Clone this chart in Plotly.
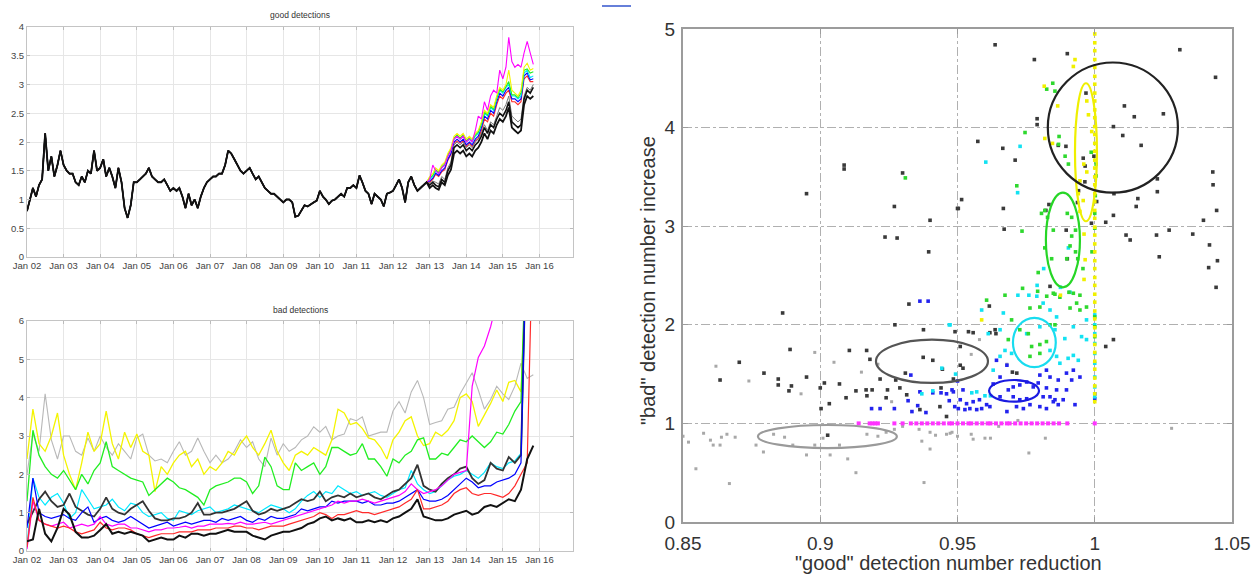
import plotly.graph_objects as go
import pandas as pd

W, H = 1259, 578

# ---------------- tick labels ----------------
year_tick_vals = [f"{y}-01-01" for y in range(2002, 2017)]
year_tick_text = ["Jan 02", "Jan 03", "Jan 04", "Jan 05", "Jan 06", "Jan 07", "Jan 08",
                  "Jan 09", "Jan 10", "Jan 11", "Jan 12", "Jan 13", "Jan 14", "Jan 15", "Jan 16"]
good_y_ticks = [0, 0.5, 1, 1.5, 2, 2.5, 3, 3.5, 4]
good_y_text = ["0", "0.5", "1", "1.5", "2", "2.5", "3", "3.5", "4"]
bad_y_ticks = [0, 1, 2, 3, 4, 5, 6]
sc_x_ticks = [0.85, 0.9, 0.95, 1.0, 1.05]
sc_x_text = ["0.85", "0.9", "0.95", "1", "1.05"]
sc_y_ticks = [0, 1, 2, 3, 4, 5]

# ---------------- good detections (monthly, Jan 2002 ...) ----------------
good_common = [
    0.8, 1.0, 1.2, 1.05, 1.25, 1.35, 2.15, 1.5, 1.75, 1.4, 1.6, 1.85,
    1.6, 1.5, 1.45, 1.45, 1.3, 1.25, 1.4, 1.3, 1.5, 1.45, 1.85, 1.5,
    1.55, 1.7, 1.4, 1.55, 1.4, 1.2, 1.55, 1.3, 0.85, 0.68, 0.9, 1.3,
    1.3, 1.35, 1.4, 1.45, 1.55, 1.4, 1.35, 1.3, 1.3, 1.35, 1.25, 1.15,
    1.2, 1.15, 1.2, 1.05, 0.85, 1.1, 0.9, 1.0, 0.85, 1.05, 1.2, 1.3,
    1.35, 1.4, 1.4, 1.45, 1.45, 1.6, 1.85, 1.8, 1.7, 1.6, 1.5, 1.45,
    1.5, 1.55, 1.45, 1.35, 1.4, 1.3, 1.2, 1.15, 1.1, 1.1, 1.05, 1.0,
    0.95, 1.0, 1.0, 0.95, 0.7, 0.72, 0.8, 0.9, 0.88, 0.92, 0.95, 0.98,
    1.15, 1.05, 1.0, 0.92, 0.98, 1.0, 1.05, 1.1, 1.05, 1.2, 1.2, 1.25,
    1.2, 1.42, 1.3, 1.15, 1.1, 0.92, 1.1, 1.05, 1.0, 0.88, 1.1, 1.12,
    1.15, 1.25, 1.35, 1.2, 0.95, 1.3, 1.4, 1.25, 1.15, 1.2, 1.25, 1.3,
]
good_tail_yellow = [1.4, 1.45, 1.55, 1.5, 1.6, 1.65, 1.8, 1.9, 2.1, 2.15, 2.1, 2.15, 2.05, 2.1, 2.05, 2.15, 2.2, 2.35,
                    2.55, 2.5, 2.65, 2.6, 2.8, 2.95, 2.9, 3.0, 3.25, 2.9, 2.85, 2.8, 2.9, 3.3, 3.37, 3.25, 3.28]
good_tail_green = [1.38, 1.42, 1.52, 1.47, 1.57, 1.62, 1.77, 1.87, 2.07, 2.12, 2.07, 2.12, 2.02, 2.07, 2.02, 2.12, 2.17, 2.32,
                   2.52, 2.47, 2.62, 2.57, 2.77, 2.92, 2.87, 2.97, 3.05, 2.82, 2.82, 2.77, 2.85, 3.25, 3.27, 3.2, 3.22]
good_tail_cyan = [1.35, 1.4, 1.5, 1.45, 1.55, 1.6, 1.75, 1.85, 2.05, 2.1, 2.05, 2.1, 2.0, 2.05, 2.0, 2.1, 2.15, 2.3,
                  2.5, 2.45, 2.6, 2.55, 2.75, 2.9, 2.85, 2.95, 3.0, 2.8, 2.8, 2.75, 2.8, 3.2, 3.25, 3.12, 3.15]
good_tail_blue = [1.32, 1.37, 1.46, 1.42, 1.5, 1.55, 1.7, 1.8, 2.0, 2.05, 2.0, 2.05, 1.95, 2.0, 1.95, 2.05, 2.1, 2.25,
                  2.45, 2.4, 2.55, 2.5, 2.7, 2.85, 2.8, 2.9, 2.95, 2.75, 2.75, 2.7, 2.75, 3.15, 3.2, 3.08, 3.1]
good_tail_red = [1.3, 1.35, 1.44, 1.4, 1.48, 1.52, 1.68, 1.78, 1.98, 2.02, 1.98, 2.02, 1.92, 1.98, 1.92, 2.02, 2.06, 2.2,
                 2.4, 2.35, 2.5, 2.45, 2.65, 2.8, 2.75, 2.85, 2.9, 2.7, 2.7, 2.65, 2.7, 3.1, 3.15, 3.05, 3.05]
good_tail_magenta = [1.35, 1.6, 1.5, 1.45, 1.55, 1.6, 1.75, 1.85, 2.05, 2.1, 2.05, 2.1, 2.0, 2.05, 2.0, 2.2, 2.45, 2.4,
                     2.7, 2.55, 2.8, 2.9, 2.85, 3.25, 3.1, 3.3, 3.82, 3.4, 3.3, 3.35, 3.3, 3.55, 3.75, 3.55, 3.35]
good_tail_gray = [1.28, 1.32, 1.3, 1.27, 1.4, 1.35, 1.55, 1.65, 1.95, 2.0, 1.95, 2.0, 1.9, 1.95, 1.9, 2.0, 2.05, 2.15,
                  2.3, 2.2, 2.35, 2.3, 2.45, 2.6, 2.55, 2.65, 2.8, 2.45, 2.4, 2.35, 2.4, 2.8, 2.95, 2.9, 3.0]
good_tail_black_a = [1.25, 1.3, 1.25, 1.22, 1.35, 1.3, 1.5, 1.6, 1.9, 1.95, 1.9, 1.95, 1.85, 1.9, 1.85, 1.95, 2.0, 2.1,
                     2.25, 2.15, 2.3, 2.25, 2.4, 2.5, 2.45, 2.55, 2.7, 2.35, 2.3, 2.25, 2.3, 2.75, 2.9, 2.85, 2.95]
good_tail_black_b = [1.2, 1.25, 1.2, 1.17, 1.3, 1.25, 1.42, 1.52, 1.8, 1.85, 1.8, 1.85, 1.75, 1.8, 1.75, 1.85, 1.9, 2.0,
                     2.15, 2.05, 2.2, 2.15, 2.3, 2.4, 2.35, 2.45, 2.6, 2.25, 2.2, 2.15, 2.2, 2.65, 2.8, 2.75, 2.8]

# ---------------- bad detections (every 2 months, Jan 2002 ...) ----------------
bad_gray = [2.0, 3.05, 2.6, 4.1, 2.9, 2.4, 3.0, 3.0, 2.6, 2.5,
            2.95, 2.6, 3.0, 2.7, 2.5, 2.8, 2.6, 2.4, 2.95, 3.05,
            2.5, 2.35, 2.4, 2.3, 2.6, 2.85, 2.5, 2.6, 2.95, 2.6,
            2.3, 2.5, 2.3, 2.4, 2.6, 2.9, 2.7, 2.85, 2.4, 2.2,
            2.95, 2.5, 2.8, 2.6, 2.7, 2.9, 3.0, 3.24, 3.1, 3.25,
            2.9, 3.0, 3.05, 3.45, 3.4, 3.5, 3.0, 3.05, 3.1, 3.1,
            3.65, 3.9, 3.6, 4.15, 4.45, 4.0, 3.3, 3.35, 3.4, 3.7,
            3.75, 4.1, 4.4, 4.65, 4.2, 3.7, 3.95, 4.3, 4.1, 3.95,
            4.3, 4.9, 4.5, 4.6]
bad_yellow = [2.4, 3.7, 2.8, 2.6, 3.0, 3.6, 2.5, 2.0, 1.6, 2.3,
              3.1, 2.6, 2.8, 3.65, 2.8, 2.4, 3.1, 2.7, 3.05, 2.6,
              2.5, 1.55, 2.2, 2.0, 2.3, 2.5, 2.6, 2.2, 2.4, 2.0,
              2.2, 2.1, 2.3, 2.6, 2.5, 2.8, 3.0, 2.7, 2.5, 2.8,
              3.15, 2.6, 2.3, 2.1, 2.5, 2.6, 2.5, 2.7, 2.6, 2.5,
              2.9, 3.7, 3.6, 3.3, 3.35, 3.2, 2.95, 2.9, 2.7, 2.4,
              2.9, 3.1, 3.4, 3.5, 3.0, 2.75, 2.8, 3.1, 3.0, 3.15,
              3.4, 4.0, 4.1, 3.9, 3.25, 3.55, 3.85, 4.2, 3.9, 4.4,
              4.45, 4.15, 8.0]
bad_green = [1.3, 3.15, 2.5, 2.2, 2.0, 1.9, 2.1, 1.85, 1.6, 2.0,
             1.75, 2.1, 2.3, 2.85, 2.2, 2.1, 2.0, 1.9, 1.85, 1.8,
             1.45, 1.6, 1.75, 1.9, 1.8, 1.65, 1.6, 1.5, 1.4, 1.2,
             1.6, 1.7, 1.75, 1.8, 1.9, 1.9, 1.8, 1.5, 1.7, 2.45,
             2.2, 1.7, 1.6, 1.6, 2.3, 2.1, 2.2, 2.3, 2.0, 2.2,
             2.7, 2.7, 2.6, 2.5, 2.55, 2.8, 2.4, 2.4, 2.2, 1.95,
             2.4, 2.3, 2.5, 2.6, 2.9, 2.95, 2.4, 2.4, 2.55, 2.5,
             2.7, 2.9, 2.85, 3.0, 2.85, 2.7, 2.85, 3.1, 3.05, 3.3,
             3.65, 3.9, 9.0]
bad_cyan = [0.1, 1.9, 1.4, 1.2, 1.4, 1.5, 1.25, 0.85, 1.0, 1.6,
            1.35, 1.1, 1.15, 1.2, 1.35, 1.15, 1.05, 1.25, 1.2, 1.0,
            0.9, 0.95, 1.0, 0.85, 0.8, 1.05, 1.0, 0.95, 1.05, 1.1,
            1.15, 1.0, 1.05, 1.1, 1.2, 1.15, 1.1, 1.05, 1.0, 1.1,
            1.2, 1.15, 1.1, 1.0, 1.1, 1.3, 1.45, 1.55, 1.4, 1.55,
            1.5, 1.7, 1.6, 1.5, 1.55, 1.45, 1.5, 1.55, 1.45, 1.4,
            1.5, 1.6, 1.65, 2.1, 1.75, 1.6, 1.5, 1.55, 1.7, 1.85,
            1.95, 2.0, 2.1, 2.0, 1.9, 2.05, 2.3, 2.2, 2.15, 2.3,
            2.35, 2.55, 9.0]
bad_black_hi = [0.7, 1.0, 1.35, 1.55, 1.3, 1.15, 1.2, 1.5, 1.15, 1.05,
                0.95, 0.9, 1.1, 1.4, 1.1, 1.0, 0.95, 1.1, 1.2, 1.3,
                1.05, 0.85, 0.8, 0.8, 0.85, 0.85, 0.9, 1.0, 1.25, 0.95,
                0.95, 1.0, 1.0, 1.05, 1.1, 1.2, 1.3, 1.05, 0.95, 1.0,
                1.1, 1.05, 1.1, 1.15, 1.25, 1.35, 1.3, 1.35, 1.55, 1.3,
                1.4, 1.45, 1.4, 1.5, 1.4, 1.45, 1.5, 1.4, 1.35, 1.45,
                1.55, 1.6, 1.75, 1.9, 2.25, 1.7, 1.6, 1.55, 1.75, 1.9,
                2.0, 2.15, 2.2, 1.9, 1.75, 1.85, 2.3, 2.15, 2.1, 2.45,
                2.3, 2.5, 9.0]
bad_blue = [0.6, 1.9, 1.0, 0.9, 0.85, 0.9, 0.95, 0.85, 0.8, 1.0,
            1.15, 0.75, 0.85, 0.9, 0.8, 0.75, 0.8, 0.9, 0.8, 0.7,
            0.6, 0.65, 0.7, 0.75, 0.65, 0.7, 0.75, 0.7, 0.75, 0.8,
            0.8, 0.75, 0.85, 0.8, 0.85, 0.9, 0.8, 0.75, 0.85, 0.8,
            0.9, 0.85, 0.85, 0.9, 0.95, 1.1, 1.05, 1.1, 1.15, 1.15,
            1.3, 1.25, 1.3, 1.3, 1.3, 1.25, 1.3, 1.2, 1.2, 1.25,
            1.25, 1.3, 1.4, 1.5, 1.6, 1.35, 1.3, 1.3, 1.35, 1.45,
            1.6, 1.75, 1.9, 1.8, 1.65, 1.7, 1.7, 1.8, 1.85, 1.9,
            2.0, 2.3, 9.0]
bad_magenta = [0.05, 1.3, 0.8, 0.7, 0.65, 0.7, 0.75, 0.6, 0.65, 0.7,
               0.65, 0.7, 0.9, 0.7, 0.65, 0.7, 0.7, 0.6, 0.6, 0.55,
               0.5, 0.55, 0.55, 0.6, 0.6, 0.62, 0.65, 0.6, 0.65, 0.65,
               0.7, 0.7, 0.7, 0.72, 0.7, 0.75, 0.7, 0.7, 0.72, 0.75,
               0.7, 0.75, 0.8, 0.85, 0.9, 0.95, 1.0, 1.05, 1.1, 1.15,
               1.2, 1.3, 1.25, 1.3, 1.3, 1.35, 1.3, 1.25, 1.3, 1.35,
               1.4, 1.45, 1.55, 1.75, 1.6, 1.5, 1.55, 1.6, 1.7, 1.85,
               2.0, 2.05, 2.1, 4.3, 5.05, 5.35, 5.85, 6.5]
bad_red = [0.1, 1.4, 0.8, 0.7, 0.65, 0.6, 0.65, 0.6, 0.5, 0.45,
           0.5, 0.55, 0.75, 0.6, 0.55, 0.6, 0.6, 0.55, 0.45, 0.4,
           0.35, 0.4, 0.45, 0.45, 0.45, 0.5, 0.5, 0.5, 0.55, 0.55,
           0.55, 0.6, 0.6, 0.6, 0.65, 0.65, 0.6, 0.6, 0.55, 0.6,
           0.65, 0.65, 0.65, 0.7, 0.75, 0.8, 0.85, 0.9, 1.0, 0.95,
           0.85, 0.95, 0.95, 1.0, 1.05, 1.0, 1.0, 0.95, 1.0, 1.05,
           1.1, 1.15, 1.25, 1.35, 1.6, 1.1, 1.1, 1.15, 1.2, 1.3,
           1.5, 1.6, 1.65, 1.5, 1.45, 1.5, 1.5, 1.45, 1.4, 1.5,
           1.7, 2.0, 2.3, 9.0]
bad_black_lo = [0.25, 0.3, 1.1, 0.45, 0.25, 0.6, 1.1, 0.95, 0.5, 0.35,
                0.35, 0.4, 0.55, 0.7, 0.45, 0.5, 0.45, 0.5, 0.45, 0.4,
                0.25, 0.3, 0.35, 0.3, 0.3, 0.4, 0.35, 0.45, 0.45, 0.4,
                0.45, 0.45, 0.5, 0.55, 0.5, 0.5, 0.5, 0.4, 0.35, 0.3,
                0.4, 0.45, 0.5, 0.5, 0.55, 0.6, 0.7, 0.75, 0.85, 0.9,
                0.8, 0.85, 0.8, 0.85, 0.75, 0.75, 0.8, 0.75, 0.8, 0.75,
                0.85, 0.9, 1.0, 1.1, 1.35, 0.9, 0.85, 0.8, 0.8, 0.85,
                0.95, 1.0, 1.05, 0.95, 1.0, 1.15, 1.2, 1.15, 1.25, 1.35,
                1.3, 1.6, 2.4, 2.75]

# ---------------- scatter: good reduction vs bad increase ----------------
black_pts = [
    (0.895, 3.33), (0.9087, 3.62), (0.9087, 3.58), (0.930, 3.54), (0.927, 3.20), (0.940, 3.06), (0.9236, 2.89),
    (0.928, 2.88), (0.9395, 2.74), (0.950, 3.18), (0.9637, 4.84), (0.990, 4.75), (0.978, 4.69), (1.031, 4.79),
    (1.044, 4.51), (0.9968, 4.35), (1.0108, 4.22), (0.979, 4.09), (0.979, 4.03), (1.0144, 4.11), (1.025, 4.14),
    (1.0068, 4.01), (1.0102, 3.92), (1.0169, 3.82), (0.9574, 3.86), (0.9665, 3.79), (0.971, 3.67), (0.9867, 3.82),
    (0.9895, 3.81), (0.9958, 3.69), (0.9997, 3.71), (0.9965, 3.61), (0.9964, 3.45), (0.9941, 3.36), (1.0007, 3.25),
    (0.9937, 3.24), (1.0068, 3.11), (1.004, 3.04), (0.9988, 3.03), (1.007, 3.33), (1.0228, 3.48), (1.0228, 3.35),
    (1.0157, 3.28), (1.0151, 3.20), (0.9515, 3.27), (0.9503, 3.18), (0.9667, 3.18), (0.967, 2.97), (0.9822, 3.16),
    (0.9833, 3.22), (0.990, 2.67), (0.9896, 2.96), (0.9837, 2.39), (1.0114, 2.91), (1.0129, 2.86), (1.0225, 2.91),
    (1.0271, 2.96), (1.0235, 2.69), (1.0357, 2.92), (1.0396, 3.06), (1.043, 3.55), (1.0431, 3.42), (1.0444, 3.16),
    (1.0418, 2.81), (1.0447, 2.65), (1.0415, 2.58), (1.0442, 2.38),
    (0.9323, 2.21), (0.8863, 2.12), (0.9272, 2.00), (0.9376, 1.95), (0.889, 1.75), (0.9106, 1.74), (0.9169, 1.74),
    (0.9181, 1.65), (0.941, 1.64), (0.8705, 1.62), (0.8795, 1.51), (0.8635, 1.44), (0.8847, 1.45), (0.8847, 1.39),
    (0.895, 1.47), (0.9015, 1.41), (0.900, 1.36), (0.907, 1.40), (0.8895, 1.38), (0.8886, 1.33), (0.9003, 1.15),
    (0.9033, 1.20), (0.9094, 1.26), (0.913, 1.33), (0.9167, 1.34), (0.9189, 1.34), (0.917, 1.28), (0.9218, 1.45),
    (0.9245, 1.34), (0.924, 1.26), (0.929, 1.36), (0.9315, 1.29), (0.9275, 1.44), (0.931, 1.51), (0.9375, 1.67),
    (0.944, 1.36), (0.9363, 1.14), (0.9436, 1.17), (0.946, 1.07), (0.9027, 0.88),
    (0.9616, 2.19), (0.9637, 1.95), (0.9618, 1.92), (0.964, 1.91), (0.9491, 1.93), (0.954, 1.93), (0.9557, 1.92),
    (0.951, 1.78), (0.952, 1.56), (0.951, 1.59), (0.9485, 1.45), (0.970, 1.52), (0.9716, 1.51), (1.004, 1.78),
    (1.0068, 1.85), (0.9445, 1.55),
]
gray_pts = [
    (0.850, 0.87), (0.852, 0.81), (0.8547, 0.54), (0.8575, 0.90), (0.860, 0.83), (0.861, 0.78), (0.8635, 0.78),
    (0.864, 0.86), (0.8669, 0.39), (0.866, 0.89), (0.869, 0.86), (0.8766, 0.78), (0.8793, 0.71), (0.883, 0.89),
    (0.887, 0.86), (0.890, 0.78), (0.895, 0.68), (0.898, 0.78), (0.901, 0.85), (0.9036, 0.68), (0.907, 0.78),
    (0.910, 0.64), (0.913, 0.50), (0.917, 0.89), (0.921, 0.87), (0.924, 0.91), (0.927, 0.94), (0.930, 0.97),
    (0.937, 0.82), (0.940, 0.74), (0.9378, 0.40), (0.936, 0.94), (0.940, 0.91), (0.942, 0.88), (0.946, 0.89),
    (0.948, 0.91), (0.9473, 0.90), (0.950, 0.87), (0.955, 0.89), (0.9557, 0.84), (0.960, 0.85), (0.962, 0.85),
    (0.965, 0.97), (0.972, 1.03), (0.976, 0.70), (0.982, 0.85), (1.028, 0.95), (0.862, 1.58), (0.874, 1.43),
    (0.893, 1.30), (0.905, 1.62), (0.898, 1.72), (0.915, 1.52), (0.921, 1.60), (0.926, 1.22), (0.958, 1.85),
    (0.955, 1.70), (0.968, 1.60),
]
blue_pts = [
    (0.9363, 2.24), (0.9393, 2.24), (0.933, 1.49), (0.9187, 1.15), (0.9218, 1.15), (0.927, 1.15), (0.932, 1.23),
    (0.9334, 1.12), (0.9355, 1.18), (0.9385, 1.11), (0.9363, 1.32), (0.941, 1.31), (0.944, 1.31), (0.947, 1.23),
    (0.948, 1.34), (0.949, 1.17), (0.950, 1.43), (0.946, 1.30), (0.9485, 1.32), (0.952, 1.34), (0.951, 1.24),
    (0.9533, 1.20), (0.9557, 1.22), (0.958, 1.24), (0.9606, 1.19), (0.9642, 1.64), (0.9655, 1.47), (0.968, 1.59),
    (0.9685, 1.34), (0.9703, 1.37), (0.9727, 1.39), (0.9752, 1.42), (0.9776, 1.37), (0.9794, 1.41), (0.9812, 1.27),
    (0.9824, 1.36), (0.9837, 1.27), (0.9849, 1.22), (0.9861, 1.34), (0.9867, 1.19), (0.9885, 1.24), (0.9897, 1.34),
    (0.9897, 1.51), (0.9916, 1.44), (0.9922, 1.54), (0.9928, 1.19), (0.9946, 1.47), (0.9824, 1.54), (0.9837, 1.47),
    (0.980, 1.49), (0.9867, 1.44), (0.9503, 1.15), (0.9527, 1.14), (0.9545, 1.15), (0.957, 1.14), (0.9588, 1.15),
    (0.9618, 1.17), (0.968, 1.12), (0.9715, 1.17), (0.974, 1.15), (0.9764, 1.19), (0.980, 1.17), (0.9824, 1.15),
    (0.9855, 1.24), (0.9752, 1.25), (0.9727, 1.24), (0.9703, 1.27), (1.0, 1.25), (1.0, 1.30), (0.9655, 1.27),
    (0.963, 1.40),
]
cyan_pts = [
    (0.972, 2.30), (0.976, 2.30), (0.9789, 2.29), (0.9588, 2.15), (0.9667, 2.12), (0.947, 2.00), (0.9612, 1.91),
    (0.9655, 1.95), (0.9673, 1.74), (0.9655, 1.68), (0.9697, 1.71), (0.963, 1.54), (0.9837, 1.74), (0.9861, 1.68),
    (0.9873, 1.61), (0.9903, 1.66), (0.9922, 1.69), (0.994, 1.64), (0.9952, 1.88), (0.997, 1.85), (0.9891, 1.86),
    (0.9552, 1.31), (0.957, 1.32), (0.9812, 2.22), (0.9837, 2.15), (0.9861, 2.08), (0.9855, 1.95), (0.980, 1.98),
    (0.9752, 1.91), (0.9922, 1.98), (0.997, 2.05), (1.0, 1.27), (1.0, 1.37), (1.0, 1.47), (1.0, 1.61), (1.0, 1.71),
    (1.0, 1.81), (1.0, 1.91), (1.0, 2.00), (1.0, 2.10), (0.9728, 3.81), (0.9603, 3.65), (0.9719, 3.34),
    (0.9904, 2.78), (0.9814, 2.57), (0.991, 2.33), (0.979, 2.40), (0.9875, 2.38), (0.9473, 2.00), (0.9443, 1.56),
    (0.9493, 1.50), (0.937, 1.30), (0.941, 1.33), (0.960, 1.28), (0.962, 1.28),
]
green_pts = [
    (0.931, 3.49), (0.9746, 3.95), (0.9847, 4.45), (0.9825, 4.39), (0.9855, 4.37), (0.9716, 3.41), (0.987, 3.91),
    (0.9892, 3.71), (0.9904, 3.63), (0.9868, 3.83), (0.9987, 3.75), (1.0005, 3.63), (1.0005, 3.51), (1.0002, 3.31),
    (0.9818, 3.16), (0.9806, 3.13), (0.9828, 3.09), (0.9849, 2.96), (0.990, 3.13), (0.9916, 3.09), (0.993, 2.96),
    (0.9916, 2.90), (0.991, 2.80), (0.993, 2.74), (0.9938, 2.67), (0.9898, 2.67), (0.9818, 2.78), (0.9843, 2.67),
    (0.9735, 2.95), (0.9794, 2.53), (0.9737, 2.37), (0.9792, 2.34), (0.9825, 2.29), (0.9855, 2.31), (0.9906, 2.33),
    (0.9957, 2.57), (0.999, 2.74), (1.0, 2.98), (1.0, 3.13), (0.9606, 2.25), (0.9673, 2.30), (0.9764, 2.17),
    (0.980, 2.18), (0.9837, 2.00), (0.9855, 2.00), (0.9849, 2.32), (0.9922, 2.32), (0.9946, 2.30), (0.997, 2.18),
    (1.0, 2.08), (1.0, 1.98), (1.0, 1.88), (0.9727, 1.95), (0.9758, 1.91), (0.977, 1.78), (0.9685, 1.85),
    (0.980, 1.80), (0.9824, 1.83), (0.9764, 1.68), (0.980, 1.71), (0.9946, 2.15), (0.991, 2.17), (0.9934, 2.22),
    (0.9697, 2.05), (0.9873, 2.28),
]
yellow_pts = [
    (0.9928, 4.69), (0.9922, 4.62), (0.9816, 4.42), (0.9865, 4.22), (0.9818, 3.89), (0.9846, 3.84), (0.9971, 4.27),
    (0.9977, 4.13), (0.9989, 3.96), (0.996, 3.63), (0.9971, 3.55), (0.9946, 3.46), (0.994, 3.33), (0.9958, 3.26),
    (0.9946, 3.15), (0.9961, 2.92), (0.9965, 2.66), (0.9961, 2.46), (0.9875, 2.30), (0.9588, 2.05),
    (1.0, 1.22), (1.0, 1.30), (1.0, 1.38), (1.0, 1.46), (1.0, 1.55), (1.0, 1.63), (1.0, 1.72), (1.0, 1.80),
    (1.0, 1.89), (1.0, 1.97), (1.0, 2.06), (1.0, 2.14), (1.0, 2.23), (1.0, 2.31), (1.0, 2.40), (1.0, 2.48),
    (1.0, 2.57), (1.0, 2.65), (1.0, 2.74), (1.0, 2.82), (1.0, 2.91), (1.0, 2.99), (1.0, 3.08), (1.0, 3.16),
    (1.0, 3.25), (1.0, 3.33), (1.0, 3.42), (1.0, 3.50), (1.0, 3.59), (1.0, 3.67), (1.0, 3.76), (1.0, 3.84),
    (1.0, 3.93), (1.0, 4.01), (1.0, 4.10), (1.0, 4.18), (1.0, 4.27), (1.0, 4.35), (1.0, 4.44), (1.0, 4.52),
    (1.0, 4.61), (1.0, 4.69), (1.0, 4.78), (1.0, 4.86), (1.0, 4.95),
]
magenta_x = [0.914, 0.918, 0.919, 0.920, 0.921, 0.927, 0.930, 0.933, 0.935, 0.937, 0.939, 0.941, 0.943,
             0.945, 0.947, 0.948, 0.950, 0.952, 0.954, 0.955, 0.957, 0.959, 0.961, 0.962, 0.964, 0.966,
             0.968, 0.969, 0.971, 0.973, 0.975, 0.977, 0.979, 0.981, 0.983, 0.985, 0.987, 0.990, 1.0]
magenta_y = [1.0, 1.0, 1.0, 1.0, 1.0, 1.0, 1.0, 1.0, 1.0, 1.0, 1.0, 1.0, 1.0,
             1.0, 1.0, 1.0, 1.0, 1.0, 1.0, 1.0, 1.0, 1.0, 1.0, 1.0, 1.0, 1.0,
             1.0, 1.0, 1.0, 1.0, 1.0, 1.0, 1.0, 1.0, 1.0, 1.0, 1.0, 1.0, 1.0]

# cluster ellipses (centre, half-axes)
ell_cx = [0.9026, 0.9407, 0.9706, 0.978, 0.9884, 0.9968, 1.0066]
ell_cy = [0.867, 1.63, 1.33, 1.82, 2.86, 3.75, 4.0]
ell_rx = [0.0253, 0.0204, 0.0091, 0.0078, 0.0062, 0.004, 0.0237]
ell_ry = [0.117, 0.22, 0.11, 0.25, 0.48, 0.70, 0.66]
ell_col = ["#9a9a9a", "#555555", "#1a1ae0", "#18dcef", "#26d626", "#efef00", "#222222"]

# ---------------- build figure ----------------
C = dict(magenta="#ff00ff", yellow="#f4f400", green="#22ee22", cyan="#00e8ff", blue="#0000ff",
         red="#ff2a2a", gray="#b4b4b4", black="#111111")

fig = go.Figure()


def monthly(n):
    return pd.date_range("2002-01-01", periods=n, freq="MS")


def bimonthly(n):
    return pd.date_range("2002-01-01", periods=n, freq="2MS")


good_series = [
    (good_tail_red, C["red"], 1.1),
    (good_tail_blue, C["blue"], 1.1),
    (good_tail_cyan, C["cyan"], 1.1),
    (good_tail_green, C["green"], 1.1),
    (good_tail_yellow, C["yellow"], 1.1),
    (good_tail_magenta, C["magenta"], 1.1),
    (good_tail_gray, "#777777", 1.0),
    (good_tail_black_a, C["black"], 1.6),
    (good_tail_black_b, C["black"], 1.8),
]
for tail, col, wd in good_series:
    vals = good_common + tail
    fig.add_trace(go.Scatter(x=monthly(len(vals)), y=vals, mode="lines",
                             line=dict(color=col, width=wd), xaxis="x", yaxis="y", hoverinfo="skip"))

bad_series = [
    (bad_gray, "#b8b8b8", 1.1),
    (bad_yellow, C["yellow"], 1.3),
    (bad_green, C["green"], 1.3),
    (bad_cyan, C["cyan"], 1.2),
    (bad_black_hi, "#333333", 1.8),
    (bad_blue, C["blue"], 1.2),
    (bad_magenta, C["magenta"], 1.2),
    (bad_red, C["red"], 1.2),
    (bad_black_lo, C["black"], 2.0),
]
for vals, col, wd in bad_series:
    fig.add_trace(go.Scatter(x=bimonthly(len(vals)), y=vals, mode="lines",
                             line=dict(color=col, width=wd), xaxis="x2", yaxis="y2", hoverinfo="skip"))

scatter_sets = [
    (gray_pts, "#a8a8a8", 3),
    (black_pts, "#3a3a3a", 3.6),
    (blue_pts, "#2323ee", 3.6),
    (cyan_pts, "#12e2f2", 3.6),
    (green_pts, "#2ed82e", 3.6),
    (yellow_pts, "#f0f000", 3.6),
]
for pts, col, sz in scatter_sets:
    fig.add_trace(go.Scatter(x=[p[0] for p in pts], y=[p[1] for p in pts], mode="markers",
                             marker=dict(color=col, size=sz, symbol="square"),
                             xaxis="x3", yaxis="y3", hoverinfo="skip"))
fig.add_trace(go.Scatter(x=magenta_x, y=magenta_y, mode="markers",
                         marker=dict(color="#ff33ff", size=4, symbol="square"),
                         xaxis="x3", yaxis="y3", hoverinfo="skip"))

shapes = []
for cx, cy, rx, ry, col in zip(ell_cx, ell_cy, ell_rx, ell_ry, ell_col):
    shapes.append(dict(type="circle", xref="x3", yref="y3", x0=cx - rx, x1=cx + rx, y0=cy - ry, y1=cy + ry,
                       line=dict(color=col, width=2.2), fillcolor="rgba(0,0,0,0)", layer="above"))
# small stray link underline at the top
shapes.append(dict(type="line", xref="paper", yref="paper", x0=602 / W, x1=631 / W, y0=1 - 6 / H, y1=1 - 6 / H,
                   line=dict(color="#3355cc", width=1.5)))

FAM = "Arial, Liberation Sans, sans-serif"
small_font = dict(family=FAM, size=9.5, color="#444444")
big_font = dict(family=FAM, size=19, color="#333333")

left_dom = [27 / W, 573 / W]


def left_x(anchor):
    return dict(domain=left_dom, anchor=anchor, type="date", range=["2002-01-01", "2016-12-01"],
                tickvals=year_tick_vals, ticktext=year_tick_text, tickfont=small_font, automargin=False,
                showgrid=True, gridcolor="#e6e6e6", gridwidth=1, showline=True, linecolor="#c4c4c4",
                linewidth=1, mirror="ticks", ticks="inside", ticklen=3, tickcolor="#bbbbbb",
                zeroline=False, fixedrange=True)


def left_y(anchor, dom, rng, tv, tt):
    return dict(domain=dom, anchor=anchor, range=rng, tickvals=tv, ticktext=tt, tickfont=small_font,
                automargin=False,
                showgrid=True, gridcolor="#e6e6e6", gridwidth=1, showline=True, linecolor="#c4c4c4",
                linewidth=1, mirror="ticks", ticks="inside", ticklen=3, tickcolor="#bbbbbb",
                zeroline=False, fixedrange=True)


fig.update_layout(
    template="none",
    width=W, height=H, autosize=False,
    margin=dict(l=0, r=0, t=0, b=0, pad=0),
    paper_bgcolor="white", plot_bgcolor="white",
    font=dict(family=FAM, color="#333"),
    showlegend=False, hovermode=False,
    xaxis=left_x("y"),
    yaxis=left_y("x", [1 - 257 / H, 1 - 27 / H], [0, 4], good_y_ticks, good_y_text),
    xaxis2=left_x("y2"),
    yaxis2=left_y("x2", [1 - 551 / H, 1 - 321 / H], [0, 6], bad_y_ticks, [str(v) for v in bad_y_ticks]),
    xaxis3=dict(domain=[683 / W, 1232 / W], anchor="y3", range=[0.85, 1.05], tickvals=sc_x_ticks,
                ticktext=sc_x_text, tickfont=big_font, automargin=False, ticklabelstandoff=3,
                showgrid=True, gridcolor="#b0b0b0", griddash="dashdot",
                gridwidth=1, showline=True, linecolor="#9c9c9c", linewidth=2, mirror="ticks",
                ticks="inside", ticklen=5, tickcolor="#9c9c9c", zeroline=False, fixedrange=True),
    yaxis3=dict(domain=[1 - 522 / H, 1 - 29 / H], anchor="x3", range=[0, 5], tickvals=sc_y_ticks,
                tickfont=big_font, automargin=False, ticklabelstandoff=2,
                showgrid=True, gridcolor="#b0b0b0", griddash="dashdot",
                gridwidth=1, showline=True, linecolor="#9c9c9c", linewidth=2, mirror="ticks",
                ticks="inside", ticklen=5, tickcolor="#9c9c9c", zeroline=False, fixedrange=True),
    shapes=shapes,
    annotations=[
        dict(text="good detections", x=300 / W, y=1 - 15 / H, xref="paper", yref="paper",
             showarrow=False, font=dict(family=FAM, size=8.5, color="#333"),
             xanchor="center", yanchor="middle"),
        dict(text="bad detections", x=300 / W, y=1 - 310 / H, xref="paper", yref="paper",
             showarrow=False, font=dict(family=FAM, size=8.5, color="#333"),
             xanchor="center", yanchor="middle"),
        dict(text='"good" detection number reduction', x=948 / W, y=1 - 563 / H, xref="paper", yref="paper",
             showarrow=False, font=dict(family=FAM, size=20, color="#333"),
             xanchor="center", yanchor="middle"),
        dict(text='"bad" detection number increase', x=648 / W, y=1 - 280 / H, xref="paper", yref="paper",
             showarrow=False, textangle=-90,
             font=dict(family=FAM, size=20, color="#333"),
             xanchor="center", yanchor="middle"),
    ],
)

# the page body has a default 8px margin; remove it so the figure fills the window exactly
fig.write_html("out.html", config={"displayModeBar": False, "staticPlot": True},
               post_script="document.body.style.margin='0';document.body.style.overflow='hidden';")
